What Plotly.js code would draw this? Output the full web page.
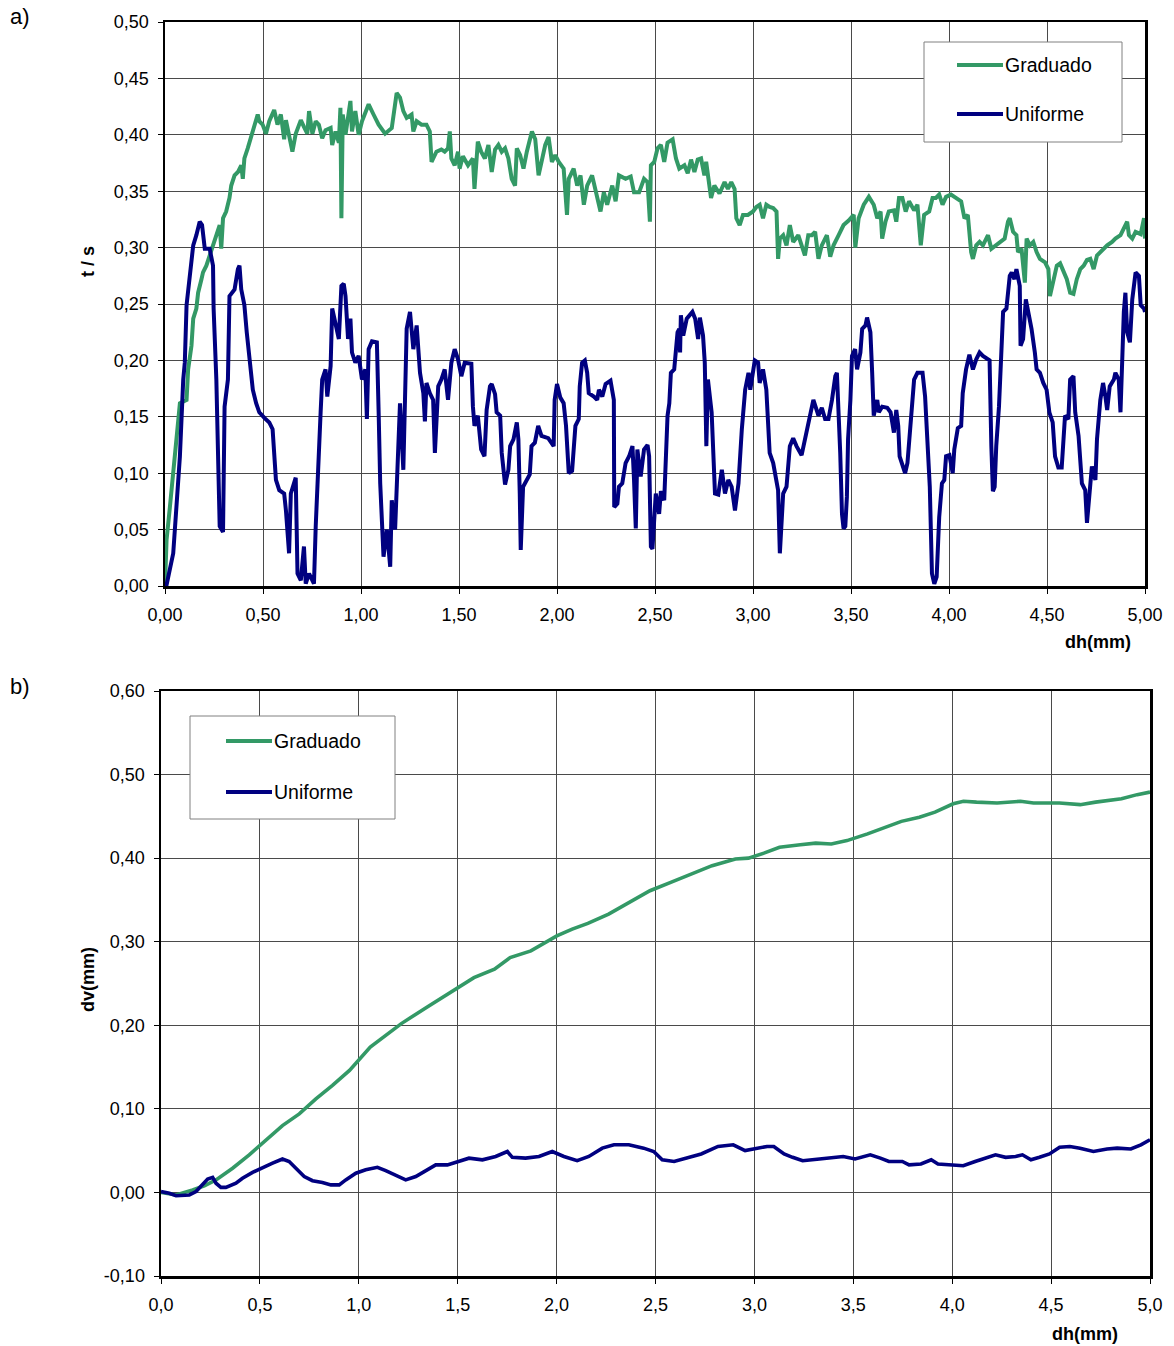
<!DOCTYPE html>
<html>
<head>
<meta charset="utf-8">
<script src="https://cdn.plot.ly/plotly-3.0.1.min.js"></script>
<style>
  html, body { margin: 0; padding: 0; background: #ffffff; }
  #chart { width: 1174px; height: 1346px; }
</style>
</head>
<body>
<div id="chart"></div>
<script>
// a) shear ratio t/s versus horizontal displacement dh (mm)
const shearDh_grad = [0.000,0.008,0.025,0.042,0.059,0.076,0.110,0.118,0.135,0.144,0.160,0.169,0.186,0.194,0.211,0.228,0.245,0.262,0.279,0.287,0.296,0.312,0.329,0.338,0.355,0.372,0.389,0.397,0.405,0.422,0.439,0.456,0.473,0.481,0.498,0.515,0.532,0.557,0.574,0.591,0.608,0.617,0.633,0.650,0.667,0.693,0.709,0.726,0.735,0.752,0.769,0.785,0.802,0.819,0.845,0.853,0.870,0.887,0.895,0.900,0.907,0.921,0.946,0.954,0.971,0.988,1.005,1.039,1.064,1.090,1.123,1.157,1.182,1.199,1.216,1.233,1.258,1.267,1.284,1.309,1.334,1.351,1.360,1.385,1.410,1.427,1.444,1.453,1.461,1.478,1.495,1.503,1.520,1.546,1.571,1.579,1.596,1.613,1.632,1.650,1.667,1.684,1.701,1.718,1.735,1.752,1.769,1.786,1.795,1.812,1.829,1.846,1.872,1.889,1.906,1.923,1.940,1.957,1.974,1.991,2.009,2.034,2.051,2.060,2.085,2.103,2.120,2.137,2.154,2.179,2.197,2.222,2.239,2.256,2.282,2.299,2.316,2.350,2.376,2.393,2.419,2.444,2.462,2.474,2.479,2.496,2.513,2.530,2.547,2.564,2.590,2.607,2.624,2.650,2.667,2.684,2.701,2.718,2.735,2.752,2.761,2.778,2.786,2.803,2.829,2.855,2.872,2.889,2.906,2.915,2.932,2.949,2.974,3.000,3.017,3.034,3.051,3.068,3.085,3.103,3.120,3.128,3.137,3.154,3.171,3.188,3.205,3.231,3.248,3.265,3.282,3.300,3.317,3.334,3.351,3.377,3.394,3.411,3.437,3.462,3.488,3.514,3.522,3.539,3.565,3.591,3.616,3.634,3.651,3.659,3.676,3.693,3.719,3.731,3.745,3.762,3.779,3.796,3.822,3.839,3.856,3.873,3.899,3.916,3.933,3.950,3.967,3.985,4.010,4.036,4.062,4.079,4.096,4.113,4.122,4.139,4.156,4.173,4.199,4.216,4.241,4.267,4.284,4.301,4.310,4.327,4.344,4.352,4.370,4.387,4.396,4.413,4.430,4.447,4.464,4.490,4.507,4.515,4.533,4.550,4.567,4.584,4.601,4.618,4.635,4.652,4.670,4.687,4.704,4.721,4.738,4.755,4.772,4.789,4.807,4.832,4.849,4.875,4.892,4.909,4.918,4.935,4.952,4.978,4.995,5.000];
const shearTs_grad = [0.000,0.041,0.070,0.100,0.130,0.162,0.165,0.192,0.213,0.237,0.246,0.260,0.272,0.278,0.284,0.293,0.302,0.311,0.320,0.299,0.326,0.332,0.344,0.355,0.364,0.367,0.373,0.361,0.379,0.388,0.398,0.409,0.418,0.412,0.409,0.401,0.412,0.422,0.409,0.418,0.396,0.413,0.397,0.385,0.401,0.413,0.407,0.401,0.421,0.401,0.412,0.409,0.397,0.404,0.406,0.391,0.403,0.393,0.424,0.326,0.418,0.400,0.430,0.403,0.421,0.400,0.412,0.427,0.418,0.409,0.401,0.406,0.437,0.433,0.421,0.415,0.418,0.403,0.412,0.409,0.409,0.403,0.376,0.385,0.387,0.385,0.388,0.403,0.379,0.373,0.385,0.370,0.381,0.373,0.379,0.352,0.394,0.385,0.379,0.391,0.367,0.387,0.391,0.385,0.388,0.379,0.361,0.355,0.388,0.382,0.370,0.385,0.403,0.396,0.364,0.376,0.391,0.398,0.376,0.382,0.376,0.370,0.329,0.361,0.370,0.355,0.364,0.338,0.355,0.364,0.352,0.332,0.349,0.338,0.355,0.341,0.364,0.361,0.363,0.349,0.349,0.361,0.358,0.323,0.373,0.376,0.388,0.391,0.376,0.393,0.396,0.379,0.370,0.373,0.366,0.378,0.367,0.378,0.379,0.364,0.376,0.352,0.344,0.355,0.348,0.358,0.352,0.358,0.352,0.326,0.320,0.329,0.329,0.332,0.336,0.338,0.326,0.338,0.336,0.335,0.332,0.290,0.308,0.311,0.302,0.320,0.305,0.311,0.302,0.293,0.311,0.311,0.314,0.290,0.302,0.311,0.292,0.302,0.311,0.320,0.324,0.329,0.300,0.326,0.338,0.345,0.338,0.326,0.332,0.308,0.323,0.332,0.333,0.323,0.344,0.344,0.332,0.341,0.333,0.338,0.302,0.329,0.332,0.344,0.344,0.347,0.338,0.345,0.347,0.344,0.341,0.326,0.329,0.296,0.290,0.302,0.305,0.302,0.311,0.299,0.302,0.305,0.308,0.323,0.326,0.314,0.311,0.296,0.299,0.269,0.308,0.302,0.305,0.296,0.290,0.287,0.281,0.257,0.272,0.284,0.286,0.278,0.272,0.260,0.259,0.272,0.281,0.284,0.289,0.290,0.281,0.293,0.296,0.299,0.302,0.305,0.308,0.311,0.317,0.323,0.311,0.308,0.314,0.312,0.326,0.308];

const shearDh_unif = [0.000,0.008,0.042,0.059,0.076,0.093,0.101,0.110,0.127,0.144,0.160,0.177,0.189,0.203,0.228,0.245,0.248,0.262,0.279,0.296,0.304,0.321,0.329,0.355,0.372,0.380,0.389,0.405,0.417,0.431,0.448,0.465,0.481,0.507,0.532,0.549,0.557,0.566,0.583,0.608,0.617,0.633,0.642,0.659,0.667,0.676,0.693,0.709,0.718,0.735,0.760,0.769,0.782,0.794,0.802,0.819,0.828,0.845,0.853,0.870,0.887,0.900,0.912,0.921,0.934,0.946,0.954,0.971,0.988,1.005,1.022,1.030,1.039,1.056,1.081,1.090,1.098,1.115,1.132,1.149,1.157,1.174,1.188,1.199,1.216,1.233,1.250,1.267,1.284,1.301,1.318,1.326,1.334,1.351,1.368,1.377,1.394,1.410,1.427,1.444,1.461,1.478,1.495,1.512,1.529,1.563,1.571,1.579,1.596,1.613,1.630,1.641,1.658,1.667,1.684,1.692,1.710,1.718,1.735,1.752,1.761,1.778,1.795,1.803,1.810,1.815,1.827,1.844,1.861,1.870,1.887,1.904,1.921,1.955,1.983,1.988,2.000,2.017,2.034,2.046,2.060,2.077,2.094,2.111,2.116,2.128,2.142,2.154,2.162,2.188,2.205,2.214,2.231,2.248,2.273,2.290,2.292,2.308,2.316,2.333,2.350,2.368,2.385,2.393,2.402,2.410,2.427,2.444,2.462,2.470,2.479,2.487,2.496,2.504,2.521,2.530,2.547,2.564,2.573,2.581,2.598,2.607,2.615,2.624,2.628,2.632,2.644,2.662,2.679,2.691,2.705,2.720,2.729,2.745,2.754,2.762,2.770,2.789,2.806,2.823,2.841,2.857,2.874,2.891,2.908,2.926,2.943,2.960,2.977,2.986,3.009,3.026,3.034,3.051,3.068,3.085,3.103,3.120,3.128,3.137,3.154,3.171,3.188,3.205,3.222,3.248,3.265,3.291,3.308,3.334,3.351,3.368,3.385,3.403,3.420,3.428,3.437,3.445,3.454,3.462,3.471,3.479,3.485,3.497,3.505,3.521,3.531,3.548,3.557,3.574,3.582,3.599,3.608,3.616,3.634,3.642,3.659,3.685,3.702,3.719,3.731,3.741,3.748,3.762,3.776,3.788,3.805,3.822,3.839,3.865,3.878,3.890,3.902,3.913,3.925,3.937,3.950,3.964,3.976,3.985,4.002,4.019,4.027,4.045,4.062,4.070,4.087,4.104,4.122,4.139,4.156,4.173,4.207,4.216,4.224,4.233,4.241,4.255,4.267,4.276,4.293,4.310,4.320,4.334,4.344,4.361,4.365,4.378,4.392,4.404,4.421,4.438,4.447,4.464,4.481,4.498,4.512,4.529,4.541,4.558,4.575,4.592,4.609,4.618,4.635,4.644,4.661,4.678,4.695,4.704,4.717,4.729,4.747,4.755,4.772,4.786,4.798,4.807,4.820,4.841,4.849,4.866,4.875,4.883,4.892,4.900,4.909,4.923,4.935,4.952,4.969,4.978,4.995,5.000];
const shearTs_unif = [0.000,0.001,0.029,0.079,0.115,0.183,0.198,0.249,0.280,0.302,0.311,0.323,0.320,0.299,0.299,0.284,0.246,0.183,0.053,0.048,0.159,0.183,0.257,0.263,0.281,0.284,0.263,0.249,0.225,0.204,0.174,0.162,0.154,0.149,0.145,0.139,0.118,0.094,0.085,0.082,0.067,0.029,0.082,0.094,0.096,0.011,0.005,0.035,0.002,0.011,0.002,0.053,0.097,0.154,0.183,0.192,0.168,0.195,0.246,0.231,0.219,0.266,0.268,0.257,0.219,0.237,0.207,0.198,0.204,0.183,0.192,0.148,0.210,0.217,0.216,0.154,0.091,0.026,0.050,0.017,0.076,0.050,0.109,0.162,0.103,0.228,0.243,0.210,0.231,0.189,0.171,0.146,0.180,0.171,0.165,0.118,0.177,0.183,0.192,0.165,0.198,0.210,0.201,0.186,0.198,0.197,0.159,0.142,0.151,0.121,0.115,0.156,0.177,0.179,0.170,0.154,0.151,0.118,0.090,0.103,0.124,0.130,0.145,0.130,0.082,0.032,0.088,0.094,0.099,0.124,0.127,0.142,0.133,0.131,0.124,0.165,0.179,0.167,0.162,0.142,0.100,0.102,0.142,0.148,0.177,0.198,0.200,0.189,0.171,0.168,0.165,0.174,0.168,0.179,0.182,0.165,0.070,0.073,0.088,0.091,0.109,0.115,0.124,0.094,0.051,0.121,0.097,0.121,0.125,0.115,0.035,0.033,0.056,0.082,0.064,0.084,0.076,0.151,0.162,0.189,0.192,0.207,0.225,0.228,0.207,0.240,0.222,0.237,0.240,0.243,0.237,0.219,0.238,0.222,0.198,0.124,0.183,0.154,0.082,0.081,0.103,0.082,0.094,0.088,0.067,0.091,0.139,0.174,0.189,0.174,0.200,0.198,0.180,0.192,0.174,0.118,0.109,0.091,0.085,0.029,0.082,0.088,0.124,0.131,0.124,0.116,0.130,0.154,0.165,0.151,0.158,0.148,0.148,0.165,0.186,0.189,0.154,0.118,0.064,0.051,0.053,0.079,0.130,0.165,0.204,0.210,0.192,0.207,0.228,0.231,0.238,0.225,0.189,0.151,0.165,0.154,0.159,0.158,0.154,0.136,0.156,0.142,0.115,0.106,0.100,0.109,0.145,0.183,0.189,0.189,0.168,0.124,0.088,0.011,0.002,0.008,0.061,0.091,0.094,0.115,0.116,0.100,0.121,0.140,0.142,0.171,0.192,0.205,0.192,0.201,0.207,0.204,0.200,0.124,0.084,0.088,0.124,0.159,0.204,0.243,0.246,0.275,0.278,0.272,0.281,0.266,0.213,0.219,0.254,0.243,0.228,0.207,0.192,0.189,0.180,0.174,0.154,0.145,0.115,0.105,0.105,0.151,0.148,0.183,0.186,0.154,0.133,0.091,0.085,0.056,0.079,0.106,0.094,0.130,0.165,0.180,0.168,0.156,0.177,0.183,0.189,0.183,0.154,0.207,0.243,0.260,0.225,0.216,0.254,0.278,0.275,0.249,0.246,0.243];

// b) vertical displacement dv (mm) versus horizontal displacement dh (mm)
const vertDh_grad = [0.000,0.076,0.160,0.219,0.278,0.362,0.446,0.530,0.614,0.699,0.783,0.867,0.953,1.058,1.215,1.346,1.503,1.582,1.686,1.765,1.870,2.001,2.079,2.158,2.263,2.367,2.472,2.577,2.682,2.786,2.904,2.970,3.048,3.127,3.232,3.310,3.389,3.468,3.572,3.651,3.743,3.834,3.913,4.005,4.057,4.123,4.227,4.345,4.411,4.542,4.647,4.725,4.856,4.935,5.000];
const vertDv_grad = [0.000,-0.003,0.003,0.008,0.015,0.029,0.045,0.062,0.080,0.094,0.112,0.128,0.146,0.174,0.202,0.222,0.245,0.257,0.267,0.281,0.289,0.307,0.315,0.322,0.333,0.347,0.361,0.371,0.381,0.391,0.399,0.400,0.406,0.413,0.416,0.418,0.417,0.421,0.429,0.436,0.444,0.449,0.455,0.465,0.468,0.467,0.466,0.468,0.466,0.466,0.464,0.467,0.471,0.476,0.479];

const vertDh_unif = [0.000,0.042,0.076,0.143,0.177,0.210,0.236,0.261,0.278,0.303,0.328,0.379,0.412,0.463,0.513,0.564,0.614,0.648,0.682,0.724,0.766,0.816,0.859,0.901,0.934,0.985,1.035,1.094,1.136,1.187,1.237,1.288,1.338,1.389,1.448,1.490,1.557,1.625,1.692,1.751,1.776,1.843,1.911,1.978,2.037,2.104,2.163,2.231,2.290,2.365,2.440,2.491,2.534,2.594,2.662,2.731,2.816,2.893,2.953,3.004,3.064,3.098,3.150,3.193,3.244,3.329,3.449,3.509,3.586,3.637,3.680,3.748,3.782,3.842,3.894,3.928,3.996,4.056,4.116,4.184,4.219,4.270,4.321,4.355,4.398,4.441,4.492,4.543,4.595,4.646,4.714,4.783,4.834,4.903,4.954,5.000];
const vertDv_unif = [0.001,-0.001,-0.004,-0.003,0.001,0.009,0.016,0.018,0.011,0.006,0.006,0.011,0.017,0.024,0.030,0.035,0.040,0.037,0.029,0.019,0.014,0.012,0.009,0.009,0.015,0.023,0.027,0.030,0.026,0.020,0.015,0.019,0.026,0.033,0.033,0.036,0.041,0.039,0.043,0.049,0.042,0.041,0.043,0.049,0.043,0.038,0.043,0.053,0.057,0.057,0.053,0.049,0.039,0.037,0.041,0.046,0.055,0.057,0.050,0.052,0.055,0.055,0.046,0.042,0.038,0.040,0.043,0.040,0.045,0.041,0.037,0.037,0.033,0.034,0.039,0.034,0.033,0.032,0.037,0.043,0.045,0.042,0.043,0.045,0.039,0.042,0.046,0.054,0.055,0.053,0.049,0.052,0.053,0.052,0.057,0.063];

// dv axis ticks (written with a plain hyphen for the negative value)
const dvTickVals = [-0.1, 0, 0.1, 0.2, 0.3, 0.4, 0.5, 0.6];
const dvTickText = ['-0,10', '0,00', '0,10', '0,20', '0,30', '0,40', '0,50', '0,60'];

const seriesNames = ['Graduado', 'Uniforme'];
const seriesColors = ['#339966', '#000080'];

// page geometry (pixels)
const W = 1174, H = 1346;
const px = v => v / W;
const py = v => 1 - v / H;

const FONT = 'Liberation Sans, Arial, sans-serif';

function line(x, y, xa, ya, i, w) {
  return {
    x: x, y: y, xaxis: xa, yaxis: ya, type: 'scatter', mode: 'lines',
    name: seriesNames[i], showlegend: false,
    line: { color: seriesColors[i], width: w, shape: 'linear' },
    hoverinfo: 'skip'
  };
}

const traces = [
  line(shearDh_grad, shearTs_grad, 'x', 'y', 0, 4),
  line(shearDh_unif, shearTs_unif, 'x', 'y', 1, 4),
  line(vertDh_grad, vertDv_grad, 'x2', 'y2', 0, 3.6),
  line(vertDh_unif, vertDv_unif, 'x2', 'y2', 1, 3.6)
];

function axis(extra) {
  return Object.assign({
    showgrid: true, gridcolor: '#4a4a4a', gridwidth: 1,
    showline: true, mirror: true, linecolor: '#000000', linewidth: 2.5,
    ticks: 'outside', ticklen: 5, tickwidth: 1, tickcolor: '#000000',
    zeroline: false, fixedrange: true,
    tickfont: { family: FONT, size: 18, color: '#000000' }
  }, extra);
}

// legend boxes, drawn in page pixels
function legendParts(box, lineX0, lineX1, textX, rowY) {
  const shapes = [{
    type: 'rect', xref: 'paper', yref: 'paper',
    x0: px(box[0]), x1: px(box[2]), y0: py(box[3]), y1: py(box[1]),
    line: { color: '#808080', width: 1 }, fillcolor: '#ffffff', layer: 'above'
  }];
  const notes = [];
  rowY.forEach((yy, i) => {
    shapes.push({
      type: 'line', xref: 'paper', yref: 'paper',
      x0: px(lineX0), x1: px(lineX1), y0: py(yy), y1: py(yy),
      line: { color: seriesColors[i], width: 4 }, layer: 'above'
    });
    notes.push({
      xref: 'paper', yref: 'paper', x: px(textX), y: py(yy),
      xanchor: 'left', yanchor: 'middle', showarrow: false,
      text: seriesNames[i], font: { family: FONT, size: 19.5, color: '#000000' }
    });
  });
  return { shapes, notes };
}

const legA = legendParts([924, 42, 1122, 142], 957, 1003, 1003, [65, 114]);
const legB = legendParts([190, 716, 395, 819], 226, 272, 272, [741, 792]);

function label(text, x, y, opts) {
  return Object.assign({
    xref: 'paper', yref: 'paper', x: px(x), y: py(y),
    xanchor: 'center', yanchor: 'middle', showarrow: false, text: text,
    font: { family: FONT, size: 18, color: '#000000' }
  }, opts || {});
}

const layout = {
  width: W, height: H,
  margin: { l: 0, r: 0, t: 0, b: 0 },
  paper_bgcolor: '#ffffff', plot_bgcolor: '#ffffff',
  separators: ', ',
  font: { family: FONT, size: 18, color: '#000000' },
  showlegend: false,
  xaxis: axis({ domain: [px(165), px(1145)], anchor: 'y', range: [0, 5], dtick: 0.5, tick0: 0, tickformat: '.2f', ticklabelstandoff: 6 }),
  yaxis: axis({ domain: [py(586), py(22)], anchor: 'x', range: [0, 0.5], dtick: 0.05, tick0: 0, tickformat: '.2f', ticklabelstandoff: 5 }),
  xaxis2: axis({ domain: [px(161), px(1150)], anchor: 'y2', range: [0, 5], dtick: 0.5, tick0: 0, tickformat: '.1f', ticklabelstandoff: 6 }),
  yaxis2: axis({ domain: [py(1276), py(691)], anchor: 'x2', range: [-0.1, 0.6], tickmode: 'array', tickvals: dvTickVals, ticktext: dvTickText, ticklabelstandoff: 5 }),
  shapes: legA.shapes.concat(legB.shapes),
  annotations: [
    label('a)', 20, 17, { font: { family: FONT, size: 22, color: '#000000' } }),
    label('b)', 20, 686, { font: { family: FONT, size: 22, color: '#000000' } }),
    label('<b>dh(mm)</b>', 1098, 642),
    label('<b>dh(mm)</b>', 1085, 1334),
    label('<b>t / s</b>', 88, 262, { textangle: -90 }),
    label('<b>dv(mm)</b>', 88, 980, { textangle: -90 })
  ].concat(legA.notes, legB.notes)
};

Plotly.newPlot('chart', traces, layout, { staticPlot: true, displayModeBar: false });
</script>
</body>
</html>
